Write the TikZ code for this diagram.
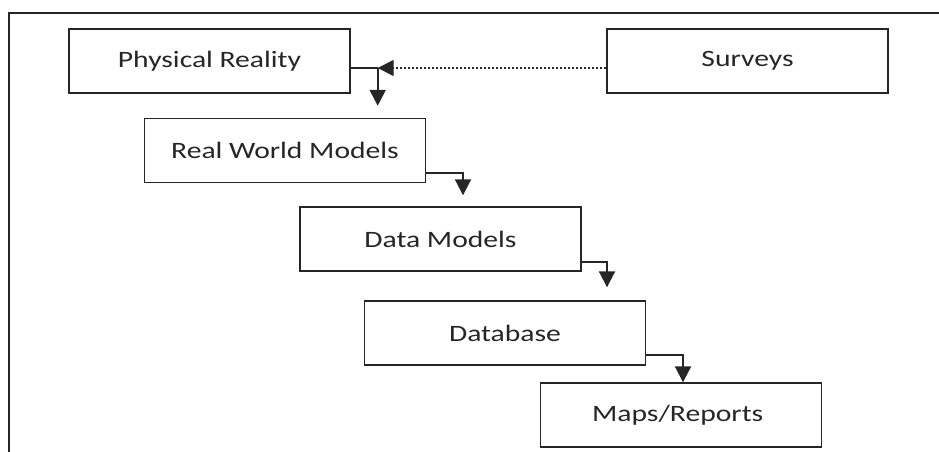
\documentclass[tikz,border=0pt]{standalone}
\usepackage{fontspec}
\setmainfont{Carlito}
\usetikzlibrary{arrows.meta}
\usetikzlibrary{calc}
\tikzset{basic box/.style={draw,
                           rectangle,
                           line width=1.4pt,
                           minimum width=281pt,
                           minimum height=64pt,
                           inner sep=0pt}}
\tikzset{edge/.style={draw,
                      line width=2pt,
                      -{Triangle[width=16pt,length=16pt]}}}
\newcommand{\WIDE}[1]{\scalebox{1.26}[1]{#1}}

\begin{document}
\begin{tikzpicture}
      [
      x=1pt,y=-1pt,
      every path/.style={color=black!85},
      my box/.style={basic box,
      font=\fontsize{23.5}{27}\selectfont,
      text=black!85},
      dotted edge/.style={edge,dotted,line width=1.5pt},
      ]
      \useasboundingbox (0,0) rectangle (939,452);

      % frame
      \draw [line width=1.6pt] (9,452) -- (9,13) -- (939,13);

      % boxes
      \foreach \n/\x/\y/\l in
      {
      phys/209.5/61/Physical Reality,
      surv/747.5/61/Surveys,
      rwm/285/150.5/Real World Models,
      dm/440.5/239/Data Models,
      db/505/333/Database,
      maps/681/415/{Maps/Reports}
      }
      {
      \node [my box] (\n) at (\x,\y) {\WIDE{\l}};
      }

      % edges
      \coordinate (junc) at ($(phys.east)+(27,7)$);
      \draw [line width=2pt] ($(phys.east)+(0,7)$) -- (junc);
      \draw [edge,shorten >=12pt] (junc) -- (junc |- rwm.north);
      \draw [dotted edge] (surv.west |- junc) -- (junc);

      \draw [edge,shorten >=11pt] ($(rwm.east)+(0,22)$) -| ($(dm.north)+(22.5,0)$);
      \draw [edge,shorten >=13pt] ($(dm.east)+(0,23)$) -| ($(db.north)+(102,0)$);
      \draw [edge] ($(db.east)+(0,22)$) -| ($(maps.north)+(2,0)$);

\end{tikzpicture}
\end{document}
